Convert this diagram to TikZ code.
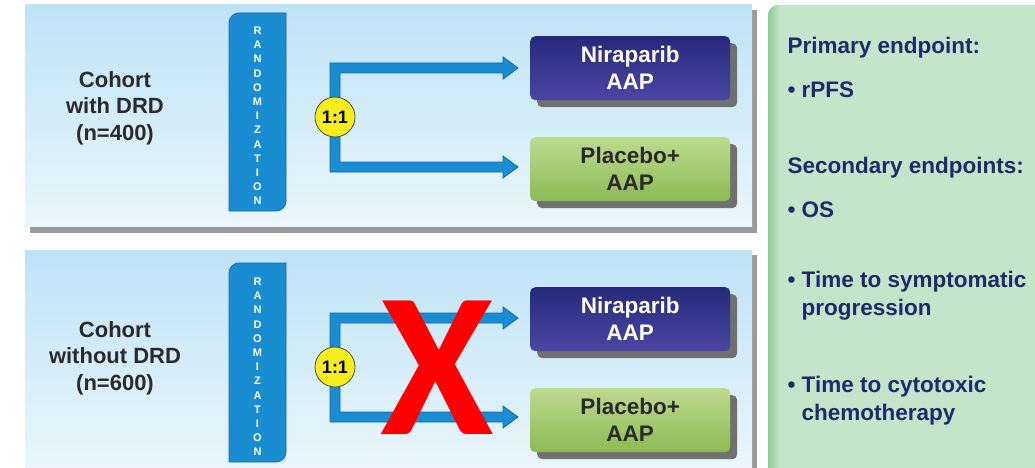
\documentclass[tikz,border=0pt]{standalone}
\usepackage{fontspec}
\setmainfont{Liberation Sans}
\newfontfamily\crossfont{Carlito}
\usetikzlibrary{arrows.meta,calc}
\definecolor{panelblue}{HTML}{BEE3F6}
\definecolor{panelwhite}{HTML}{EAF6FC}
\definecolor{randblue}{HTML}{1A8CD2}
\definecolor{randedge}{HTML}{1169A8}
\definecolor{navytop}{HTML}{25297A}
\definecolor{navybot}{HTML}{4A47A3}
\definecolor{greentop}{HTML}{BCDB8F}
\definecolor{greenbot}{HTML}{8DBA55}
\definecolor{endtext}{HTML}{1F2A6B}
\definecolor{greenpanel}{HTML}{C4E5C9}
\definecolor{greenedge}{HTML}{8FCB97}
\definecolor{shadowgray}{HTML}{707070}
\definecolor{ratioyellow}{HTML}{F6EE1C}
\definecolor{cohorttext}{HTML}{2A2A2A}
\newcommand\splitarrow[2]{%
  \filldraw[flowarrow] (330,#1-5) -- (503,#1-5) -- (503,#1-11) -- (518,#1) -- (503,#1+11) -- (503,#1+5)
    -- (340,#1+5) -- (340,#2-5) -- (503,#2-5) -- (503,#2-11) -- (518,#2) -- (503,#2+11) -- (503,#2+5)
    -- (330,#2+5) -- cycle;}
\newcommand\randbox[2]{% #1 top y, #2 bottom y
  \filldraw[randstyle] (229,#2) -- (229,#1+10) arc(180:270:10) -- (286,#1) -- (286,#2-10) arc(0:90:10) -- cycle;}
\tikzset{
  panel/.style={top color=panelblue, bottom color=panelwhite, draw=none},
  panelshadow/.style={fill=shadowgray!70, draw=none},
  cohort/.style={font=\bfseries\fontsize{22}{26.5}\selectfont, text=cohorttext, align=center},
  randstyle/.style={fill=randblue, draw=randedge, line width=0.8pt},
  randtext/.style={font=\bfseries\fontsize{11}{14.2}\selectfont, text=white, align=center},
  flowarrow/.style={fill=randblue, draw=randedge, line width=0.8pt},
  ratio/.style={circle, fill=ratioyellow, draw=black!70, line width=0.8pt, minimum size=40pt, inner sep=0pt, font=\bfseries\fontsize{18}{18}\selectfont},
  armbox/.style={rounded corners=5pt, minimum width=200pt, minimum height=64pt, align=center, font=\bfseries\fontsize{22.5}{27}\selectfont, anchor=north west},
  nirbox/.style={armbox, top color=navytop, bottom color=navybot, text=white},
  plcbox/.style={armbox, top color=greentop, bottom color=greenbot, text=cohorttext},
  boxshadow/.style={armbox, fill=shadowgray, draw=none},
  endpt/.style={font=\bfseries\fontsize{22.5}{28}\selectfont, text=endtext, anchor=west, align=left},
  cross/.style={font=\crossfont\bfseries\fontsize{206}{206}\selectfont, text=red, inner sep=0pt}
}
\begin{document}
\begin{tikzpicture}[x=1pt,y=-1pt]
\useasboundingbox (0,0) rectangle (1035,468);
\fill[white] (0,0) rectangle (1035,468);
% panels
\fill[panelshadow] (30,10) rectangle (757,233);
\shade[panel] (25,5) rectangle (752,226);
\fill[panelshadow] (30,255) rectangle (757,468);
\shade[panel] (25,250) rectangle (752,468);
% right green panel
\fill[greenpanel] (768,468) -- (768,15) arc(180:270:10) -- (1035,5) -- (1035,468) -- cycle;
\shade[left color=greenedge, right color=greenpanel] (768,468) -- (768,15) arc(180:270:10) -- (780,5) -- (780,468) -- cycle;
% ---------- top cohort
\node[cohort] (cohort1) at (115,108) {Cohort\\with DRD\\(n=400)};
\randbox{13}{211}
\node[randtext] (rand1) at (257.5,116) {R\\A\\N\\D\\O\\M\\I\\Z\\A\\T\\I\\O\\N};
\splitarrow{68}{167}
\node[ratio] (ratio1) at (335,117) {1:1};
\node[boxshadow] at (537,43) {};
\node[nirbox] (nir1) at (530,36) {Niraparib\\AAP};
\node[boxshadow] at (537,144) {};
\node[plcbox] (plc1) at (530,137) {Placebo+\\AAP};
% ---------- bottom cohort
\node[cohort] (cohort2) at (115,358) {Cohort\\without DRD\\(n=600)};
\randbox{263}{462}
\node[randtext] (rand2) at (257.5,367) {R\\A\\N\\D\\O\\M\\I\\Z\\A\\T\\I\\O\\N};
\splitarrow{318}{417}
\node[ratio] (ratio2) at (335,367) {1:1};
\node[boxshadow] at (537,294) {};
\node[nirbox] (nir2) at (530,287) {Niraparib\\AAP};
\node[boxshadow] at (537,395) {};
\node[plcbox] (plc2) at (530,388) {Placebo+\\AAP};
\node[cross] (x) at (437,368) {X};
% ---------- endpoints
\node[endpt] (e1) at (784,48) {Primary endpoint:};
\node[endpt] (e2) at (784,90) {\textbullet\ rPFS};
\node[endpt] (e3) at (784,168) {Secondary endpoints:};
\node[endpt] (e4) at (784,210) {\textbullet\ OS};
\node[endpt] (e5) at (784,296) {\textbullet\ Time to symptomatic\\\phantom{\textbullet\ }progression};
\node[endpt] (e6) at (784,401) {\textbullet\ Time to cytotoxic\\\phantom{\textbullet\ }chemotherapy};
\end{tikzpicture}
\end{document}
